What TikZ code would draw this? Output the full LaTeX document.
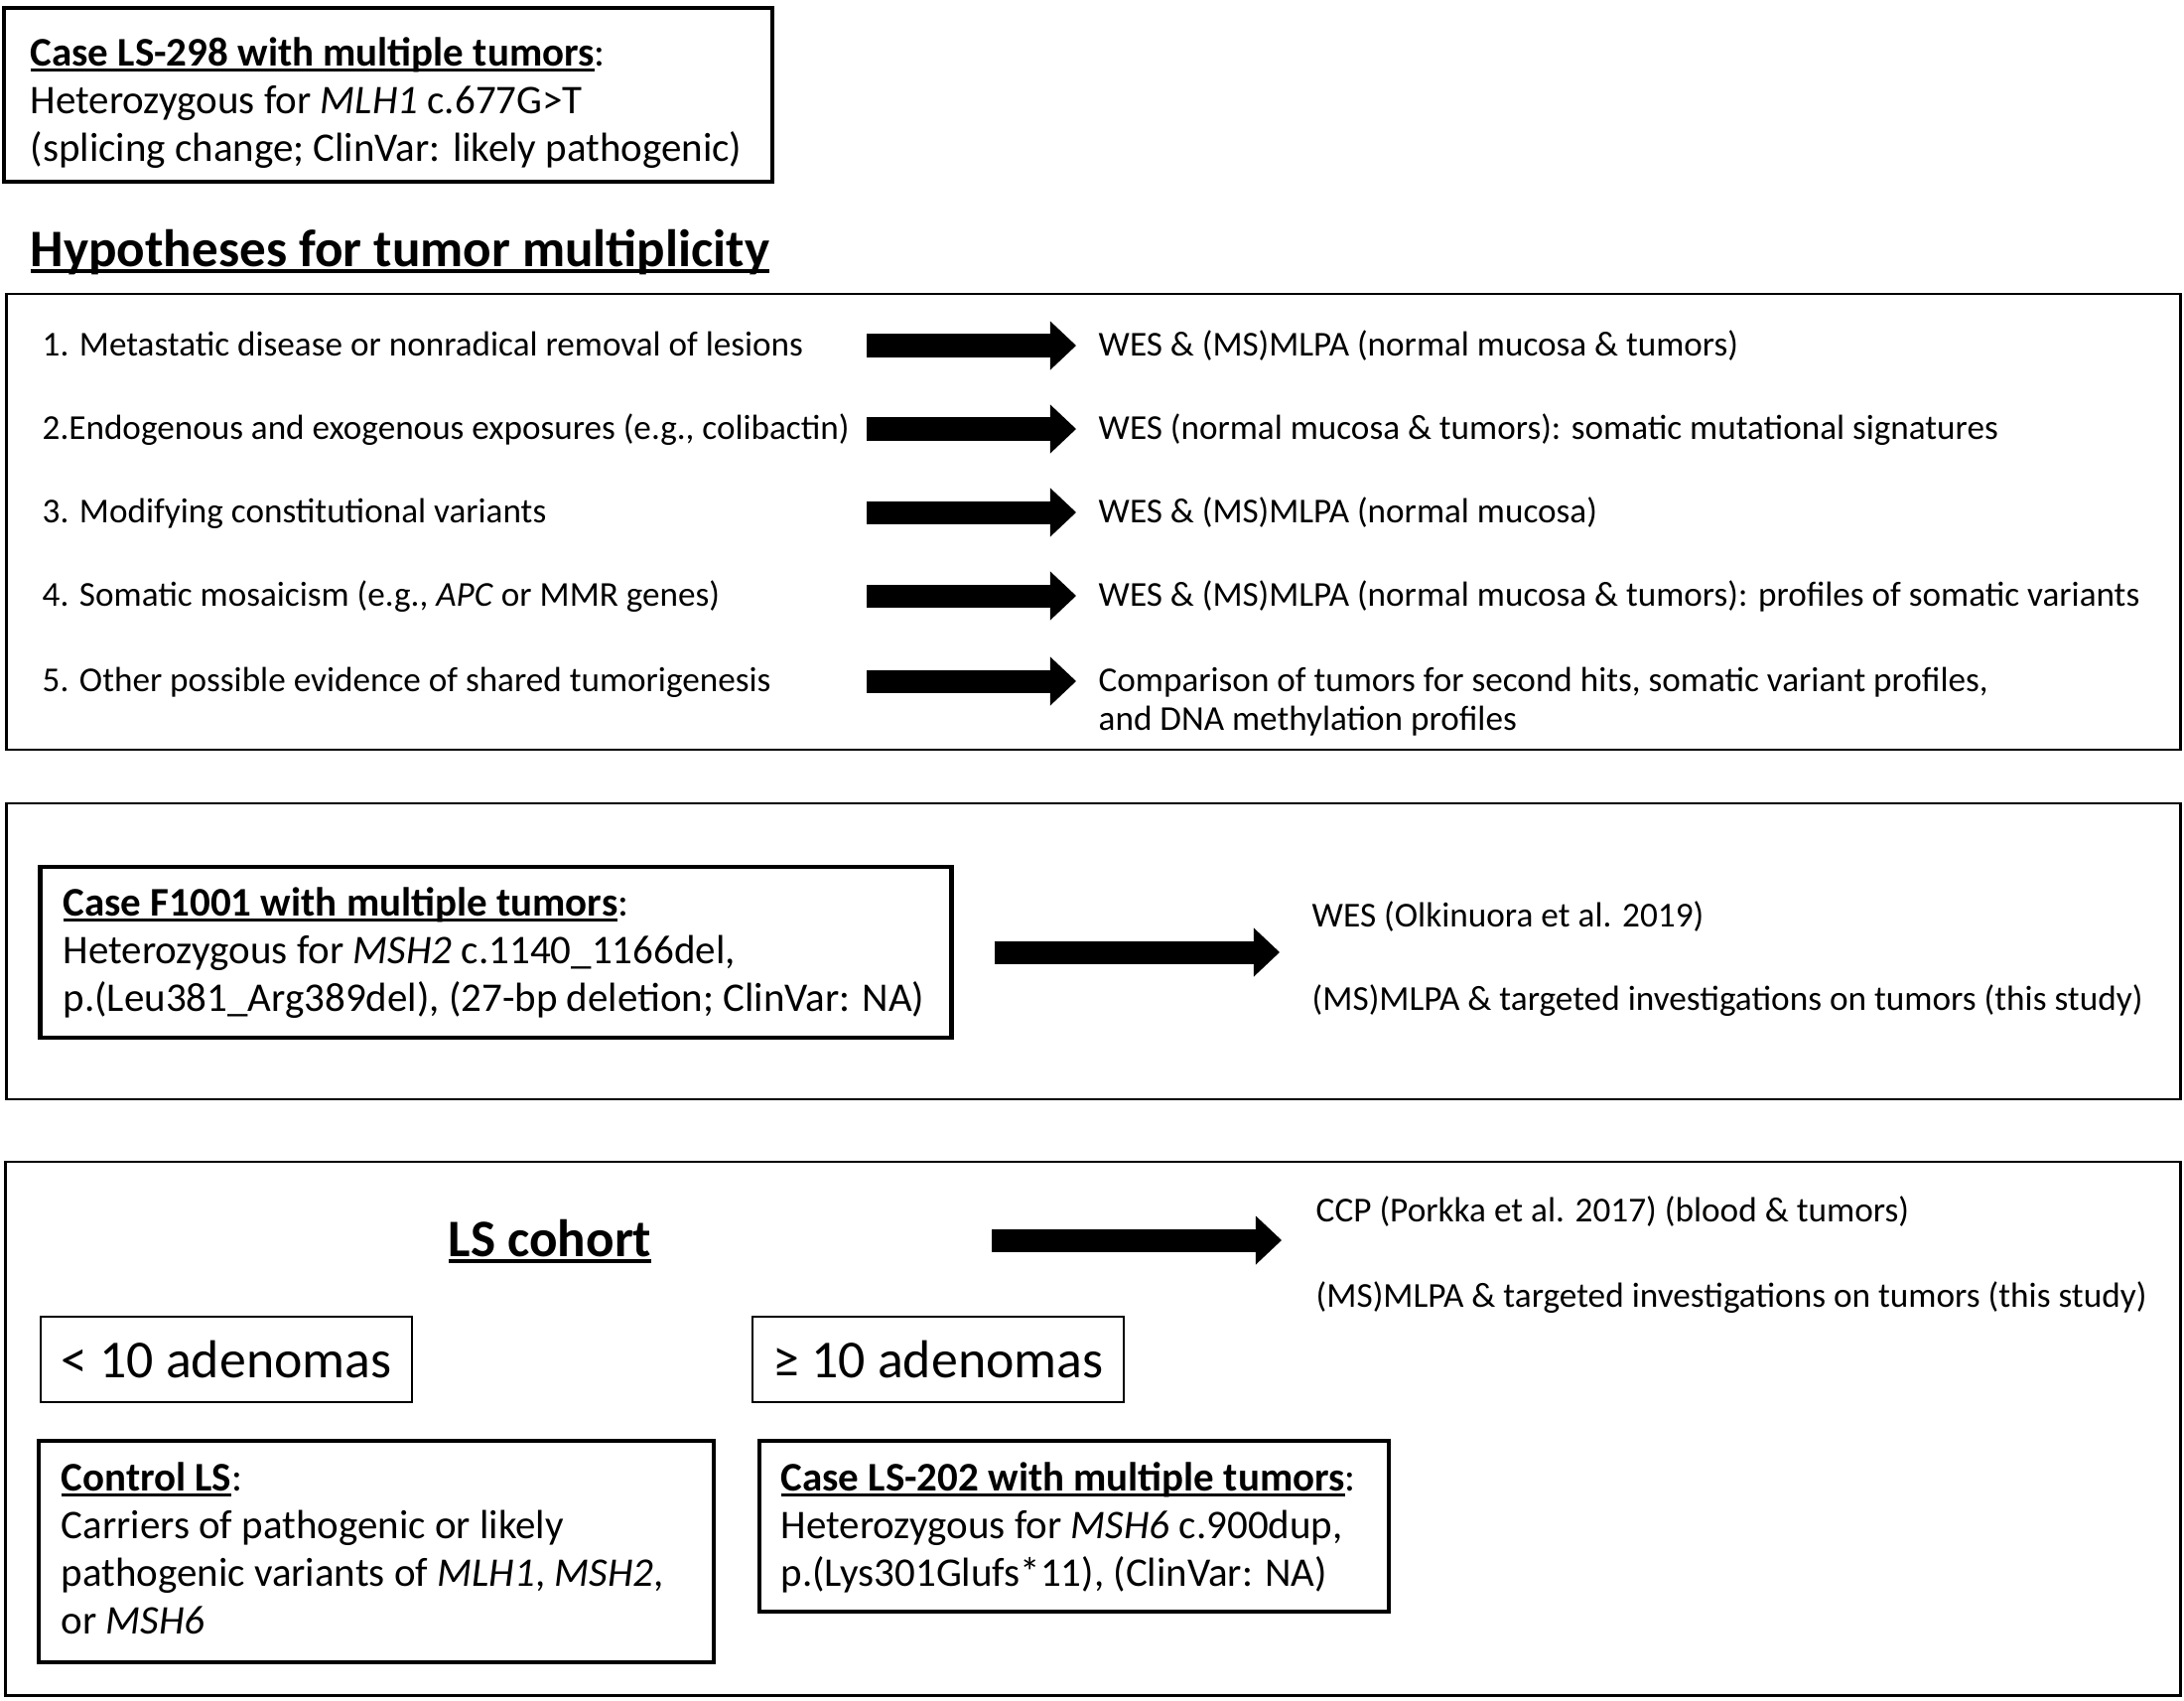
\documentclass[tikz,border=0pt]{standalone}
\usepackage{fontspec}
\setmainfont{Carlito}
\usepackage{tikz}
\usetikzlibrary{arrows.meta}

\newsavebox{\ulbox}
\newcommand{\ulin}[1]{\sbox{\ulbox}{#1}\rlap{\rule[-0.13em]{\wd\ulbox}{0.065em}}\usebox{\ulbox}}
\newcommand{\casefont}{\fontsize{11.65}{13.66}\selectfont}
\newcommand{\itemfont}{\fontsize{10}{11.1}\selectfont}
\newcommand{\methfont}{\fontsize{10.03}{12.3}\selectfont}
\newcommand{\headfont}{\fontsize{15.1}{18}\selectfont\bfseries}
\newcommand{\cohortfont}{\fontsize{15.1}{18}\selectfont\bfseries}
\newcommand{\adenfont}{\fontsize{15.3}{18.4}\selectfont}

\tikzset{
  casebox/.style={draw, line width=0.045cm, inner sep=0pt},
  thinbox/.style={draw, line width=0.027cm, inner sep=0pt},
  frame/.style={draw, line width=0.027cm, inner sep=0pt},
  casetext/.style={anchor=north west, inner sep=0pt, align=left, font=\casefont},
  itemtext/.style={anchor=base west, inner sep=0pt, font=\itemfont},
  methtext/.style={anchor=base west, inner sep=0pt, font=\methfont},
  bigarrow/.style={line width=0.23cm, -{Triangle[length=0.26cm,width=0.49cm,line width=0pt]}}
}

\begin{document}
\begin{tikzpicture}[x=0.01cm, y=-0.01cm]
  \useasboundingbox (0,0) rectangle (2200,1712);

  % index case
  \node[casebox, minimum width=7.74cm, minimum height=1.75cm] (ls298) at (391,95.5) {};
  \node[casetext] (ls298txt) at (30,32.4) {\strut\ulin{\textbf{Case LS-298 with multiple tumors}}:\\
    Heterozygous for \textit{MLH1} c.677G>T\\
    (splicing change; ClinVar: likely pathogenic)};

  % hypotheses
  \node[anchor=base west, inner sep=0pt, font=\headfont] (hyptitle) at (30,268) {\ulin{Hypotheses for tumor multiplicity}};
  \node[frame, minimum width=21.89cm, minimum height=4.59cm] (hypframe) at (1101.5,525.5) {};
  \node[itemtext] (h1) at (42,358) {1. Metastatic disease or nonradical removal of lesions};
  \node[itemtext] (h2) at (42,442) {2.Endogenous and exogenous exposures (e.g., colibactin)};
  \node[itemtext] (h3) at (42,526) {3. Modifying constitutional variants};
  \node[itemtext] (h4) at (42,610) {4. Somatic mosaicism (e.g., \textit{APC} or MMR genes)};
  \node[itemtext] (h5) at (42,696) {5. Other possible evidence of shared tumorigenesis};
  \node[itemtext] (r1) at (1106,358) {WES \& (MS)MLPA (normal mucosa \& tumors)};
  \node[itemtext] (r2) at (1106,442) {WES (normal mucosa \& tumors): somatic mutational signatures};
  \node[itemtext] (r3) at (1106,526) {WES \& (MS)MLPA (normal mucosa)};
  \node[itemtext] (r4) at (1106,610) {WES \& (MS)MLPA (normal mucosa \& tumors): profiles of somatic variants};
  \node[itemtext, anchor=north west, align=left] (r5) at (1106,668.7) {\strut Comparison of tumors for second hits, somatic variant profiles,\\
    and DNA methylation profiles};
  \foreach \i/\y in {1/348,2/432,3/516,4/600,5/686}
    \coordinate (t\i) at (873,\y);
  \foreach \i in {1,...,5}
    \draw[bigarrow, shorten >=0.22cm] (t\i) -- (t\i -| r\i.west);

  % F1001
  \node[frame, minimum width=21.89cm, minimum height=2.98cm] (f1001frame) at (1101.5,958) {};
  \node[casebox, minimum width=9.17cm, minimum height=1.72cm] (f1001) at (499.5,959) {};
  \node[casetext] (f1001txt) at (63,888.4) {\strut\ulin{\textbf{Case F1001 with multiple tumors}}:\\
    Heterozygous for \textit{MSH2} c.1140\_1166del,\\
    p.(Leu381\_Arg389del), (27-bp deletion; ClinVar: NA)};
  \node[methtext] (wes) at (1321,933) {WES (Olkinuora et al. 2019)};
  \node[methtext] (mlpa1) at (1321,1017) {(MS)MLPA \& targeted investigations on tumors (this study)};
  \draw[bigarrow, shorten <=0.41cm, shorten >=0.32cm] (f1001.east) -- (f1001.east -| wes.west);

  % LS cohort
  \node[frame, minimum width=21.90cm, minimum height=5.37cm] (cohortframe) at (1101,1438.5) {};
  \node[anchor=base, inner sep=0pt, font=\cohortfont] (cohort) at (554,1265) {\ulin{LS cohort}};
  \coordinate (cohtail) at (999,1249);
  \node[methtext] (ccp) at (1325,1230) {CCP (Porkka et al. 2017) (blood \& tumors)};
  \node[methtext] (mlpa2) at (1325,1316) {(MS)MLPA \& targeted investigations on tumors (this study)};
  \draw[bigarrow, shorten >=0.34cm] (cohtail) -- (cohtail -| ccp.west);

  \node[thinbox, font=\adenfont, minimum width=3.74cm, minimum height=0.86cm] (less10) at (228,1369) {< 10 adenomas};
  \node[thinbox, font=\adenfont, minimum width=3.74cm, minimum height=0.86cm] (geq10) at (945,1369) {≥ 10 adenomas};

  \node[casebox, minimum width=6.80cm, minimum height=2.23cm] (control) at (379,1562.5) {};
  \node[casetext] (controltxt) at (61,1467.4) {\strut\ulin{\textbf{Control LS}}:\\
    Carriers of pathogenic or likely\\
    pathogenic variants of \textit{MLH1}, \textit{MSH2},\\
    or \textit{MSH6}};
  \node[casebox, minimum width=6.34cm, minimum height=1.72cm] (ls202) at (1082,1537) {};
  \node[casetext] (ls202txt) at (786,1467.4) {\strut\ulin{\textbf{Case LS-202 with multiple tumors}}:\\
    Heterozygous for \textit{MSH6} c.900dup,\\
    p.(Lys301Glufs*11), (ClinVar: NA)};
\end{tikzpicture}
\end{document}
